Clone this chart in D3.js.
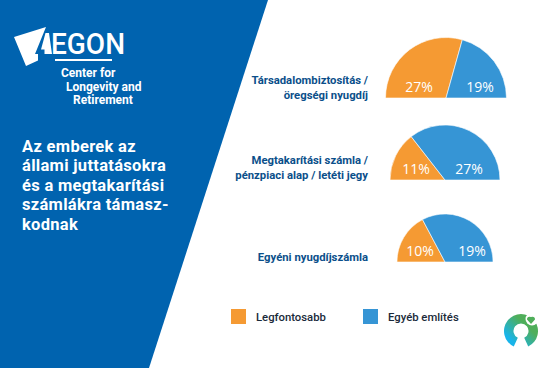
<!DOCTYPE html>
<html>
<head>
<meta charset="utf-8">
<script src="https://cdn.jsdelivr.net/npm/d3@7"></script>
<style>
html, body { margin: 0; padding: 0; background: #fff; }
svg { display: block; }
text { font-family: Roboto, sans-serif; }
</style>
</head>
<body>
<div id="chart"></div>
<script>
// chart values
const categories = [
    ["Társadalombiztosítás /", "öregségi nyugdíj"],
    ["Megtakarítási számla /", "pénzpiaci alap / letéti jegy"],
    ["Egyéni nyugdíjszámla"]
];
const seriesNames = ["Legfontosabb", "Egyéb említés"];
const legfontosabb = [27, 11, 10];
const egyebEmlites = [19, 27, 19];

const headline = ["Az emberek az", "állami juttatásokra", "és a megtakarítási", "számlákra támasz-", "kodnak"];
const brandLines = ["Center for", "Longevity and", "Retirement"];

const width = 552, height = 368;
const blue = "#0063af", orange = "#f59a33", lightBlue = "#3695d5", navy = "#0b4f8a";

const svg = d3.select("#chart").append("svg")
    .attr("width", width)
    .attr("height", height);

// left panel
svg.append("path")
    .attr("d", "M0,0H268L149,368H0Z")
    .attr("fill", blue);

// logo
const logo = svg.append("g");
logo.append("path")
    .attr("d", "M14,37L46,27L35,54L38,54L38,60.5L26,66Z")
    .attr("fill", "#fff");
logo.append("path")
    .attr("d", "M45.5,33L49,33L52,54L44.5,54L44.5,49.5L41,49.5Z")
    .attr("fill", "#fff");
logo.append("text")
    .attr("x", 51).attr("y", 54)
    .attr("fill", "#fff")
    .style("font-size", "29px")
    .style("font-weight", 500)
    .attr("textLength", 74)
    .attr("lengthAdjust", "spacingAndGlyphs")
    .text("EGON");
logo.append("rect")
    .attr("x", 55).attr("y", 59)
    .attr("width", 57).attr("height", 2)
    .attr("fill", "#fff");

const brandX = [61, 66, 73];
logo.selectAll(".brand")
    .data(brandLines)
    .enter()
    .append("text")
    .attr("class", "brand")
    .attr("x", (d, i) => brandX[i])
    .attr("y", (d, i) => 77 + i * 13.5)
    .attr("fill", "#fff")
    .style("font-size", "12px")
    .style("font-weight", 700)
    .text(d => d);

svg.selectAll(".headline")
    .data(headline)
    .enter()
    .append("text")
    .attr("class", "headline")
    .attr("x", 22)
    .attr("y", (d, i) => 152 + i * 19.4)
    .attr("fill", "#fff")
    .style("font-size", "16.5px")
    .style("font-weight", 700)
    .style("letter-spacing", "0.3px")
    .text(d => d);

// half pies, area follows the total of the row
const centers = [[446, 98], [445, 180], [445, 262]];
const totals = categories.map((c, i) => legfontosabb[i] + egyebEmlites[i]);
const radius = d3.scaleSqrt().domain([0, d3.max(totals)]).range([0, 60.5]);
const color = d3.scaleOrdinal().domain(seriesNames).range([orange, lightBlue]);

const pie = d3.pie()
    .sort(null)
    .startAngle(-Math.PI / 2)
    .endAngle(Math.PI / 2)
    .value(d => d.value);

const labelX = [[-27, 34], [-29, 24], [-25, 27]];
const catOffset = [-7, -9, -1];

categories.forEach((cat, i) => {
    const g = svg.append("g").attr("transform", `translate(${centers[i]})`);
    const rows = seriesNames.map((s, j) => ({
        name: s,
        value: j === 0 ? legfontosabb[i] : egyebEmlites[i]
    }));
    const arc = d3.arc().innerRadius(0).outerRadius(radius(totals[i]));

    g.selectAll("path")
        .data(pie(rows))
        .enter()
        .append("path")
        .attr("d", arc)
        .attr("fill", d => color(d.data.name))
        .attr("stroke", "#fff")
        .attr("stroke-width", 0.6);

    g.selectAll(".value")
        .data(rows)
        .enter()
        .append("text")
        .attr("class", "value")
        .attr("x", (d, j) => labelX[i][j])
        .attr("y", -6)
        .attr("text-anchor", "middle")
        .attr("fill", "#fff")
        .style("font-size", "14px")
        .style("font-family", "'Open Sans', sans-serif")
        .text(d => d.value + "%");

    // row label
    const lineCount = cat.length;
    svg.selectAll(".cat" + i)
        .data(cat)
        .enter()
        .append("text")
        .attr("class", "cat" + i)
        .attr("x", 368)
        .attr("y", (d, k) => centers[i][1] + catOffset[i] + (k - (lineCount - 1) / 2) * 15)
        .attr("text-anchor", "end")
        .attr("fill", navy)
        .style("font-size", "11.3px")
        .style("font-weight", 700)
        .text(d => d);
});

// legend
const legendX = [231, 363];
const legend = svg.selectAll(".legend-item")
    .data(seriesNames)
    .enter()
    .append("g")
    .attr("class", "legend-item")
    .attr("transform", (d, i) => `translate(${legendX[i]}, 309)`);

legend.append("rect")
    .attr("width", 15)
    .attr("height", 15)
    .attr("fill", d => color(d));

legend.append("text")
    .attr("x", 25)
    .attr("y", 12)
    .attr("fill", "#1a2a3a")
    .style("font-size", "11.3px")
    .style("font-weight", 500)
    .text(d => d);

// small mark bottom right
const grad = svg.append("defs").append("linearGradient")
    .attr("id", "markGrad")
    .attr("x1", 0).attr("y1", 1).attr("x2", 1).attr("y2", 0);
grad.append("stop").attr("offset", "20%").attr("stop-color", "#18b4ea");
grad.append("stop").attr("offset", "65%").attr("stop-color", "#4fae5a");

const mark = svg.append("g").attr("transform", "translate(521,331)");
mark.append("path")
    .attr("d", d3.arc().innerRadius(7.5).outerRadius(17)
        .startAngle(Math.PI * 1.14).endAngle(Math.PI * 2.86)())
    .attr("fill", "url(#markGrad)");
mark.append("circle")
    .attr("cx", 11).attr("cy", -12).attr("r", 6.5)
    .attr("fill", "#fff");
mark.append("path")
    .attr("d", "M10,-7L6,-11.5Q6,-15 10,-14Q14,-15 14,-11.5Z")
    .attr("fill", "#4fae5a");
</script>
</body>
</html>
